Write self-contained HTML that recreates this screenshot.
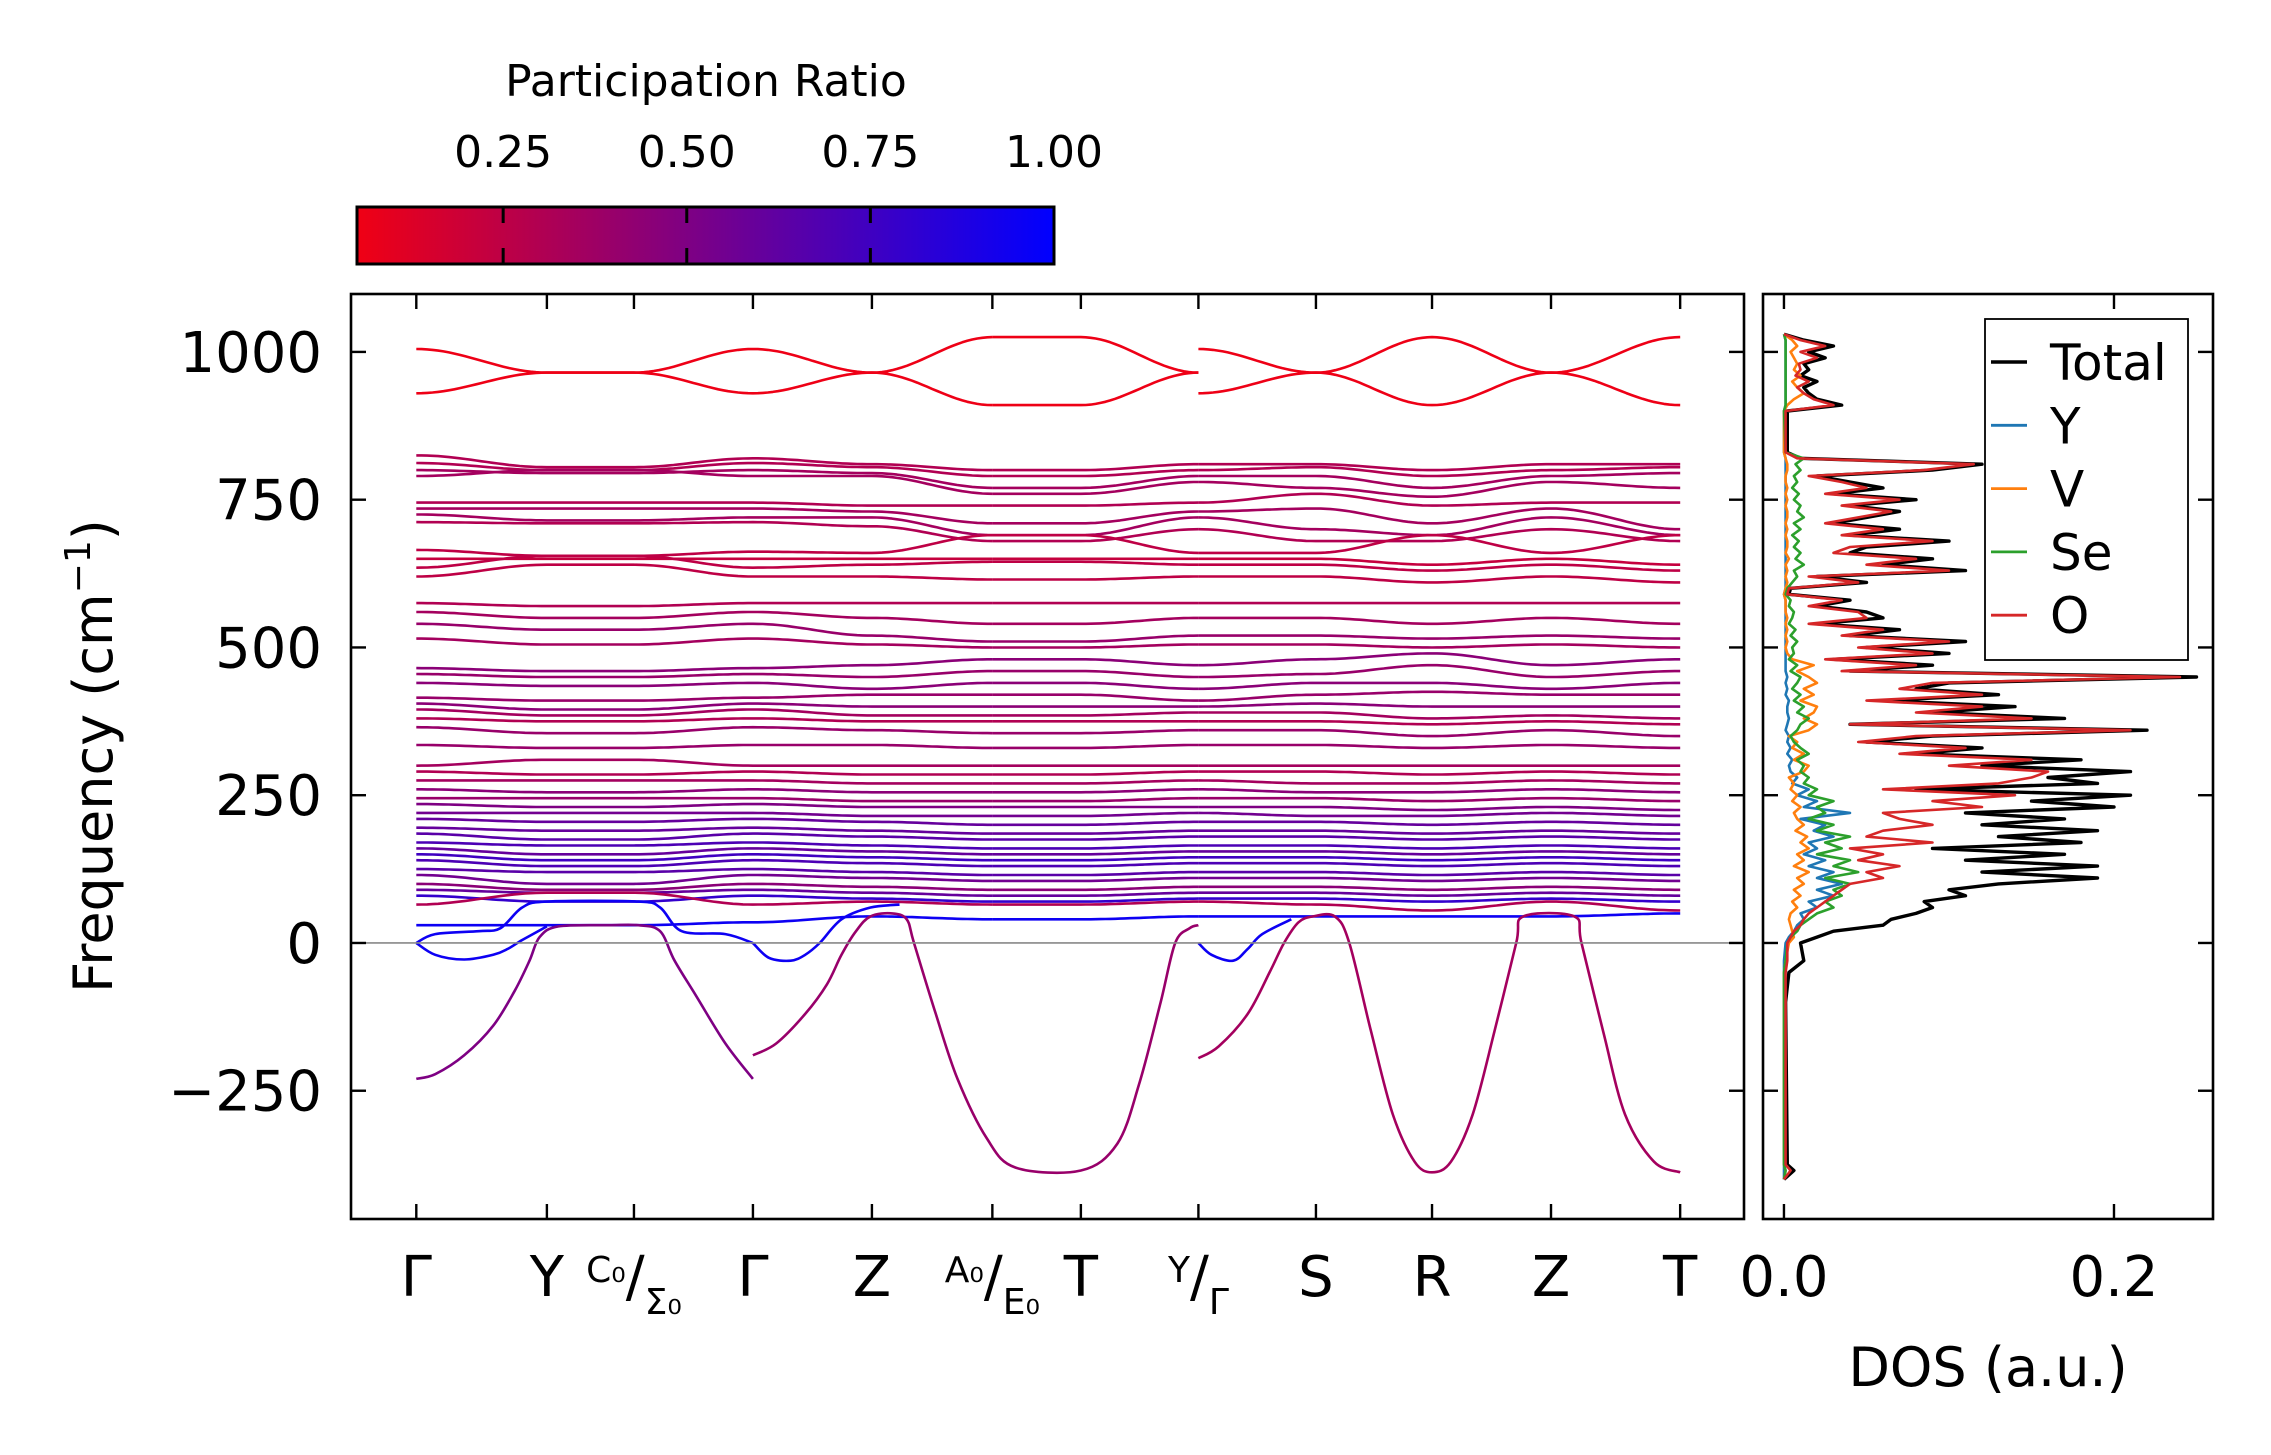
<!DOCTYPE html>
<html><head><meta charset="utf-8"><style>
html,body{margin:0;padding:0;background:#fff;}
svg{display:block;font-family:"DejaVu Sans","Liberation Sans",sans-serif;}
</style></head><body>
<svg id="chart" width="2271" height="1455" viewBox="0 0 2271 1455" xmlns="http://www.w3.org/2000/svg">
<defs>
<linearGradient id="cmap" x1="0" x2="1" y1="0" y2="0">
<stop offset="0" stop-color="#f00014"/><stop offset="1" stop-color="#0000ff"/>
</linearGradient>
<clipPath id="mainclip"><rect x="351" y="294" width="1393" height="925"/></clipPath>
<clipPath id="dosclip"><rect x="1763" y="294" width="450" height="925"/></clipPath>
</defs>
<rect x="0" y="0" width="2271" height="1455" fill="#fff"/>
<g id="colorbar">
<text x="706" y="96" font-size="44" text-anchor="middle">Participation Ratio</text>
<rect x="357" y="207" width="697" height="57" fill="url(#cmap)" stroke="#000" stroke-width="3"/>
</g>
<g id="main"></g>
<g id="dos"></g>
</svg>
<script>
// ---- Band structure data ----
const kLabels = ["Γ","Y","C0/Σ0","Γ","Z","A0/E0","T","Y/Γ","S","R","Z","T"];
const kTicks = [0,0.9,1.5,2.32,3.14,3.97,4.58,5.39,6.2,7.0,7.82,8.71];
const freqTicks = [-250,0,250,500,750,1000];
const prTicks = [0.25,0.50,0.75,1.00];
const topBand1 = [1005,965,965, 965,1005,965,1025, 1025,1025,965, 1005,965,1025,965,1025];
const topBand2 = [930,965,965, 965,930,965,910, 910,910,965, 930,965,910,965,910];
const topBandPR = [0.06,0.06];
const flatBands = [
[0.30,825,805,805,820,810,800,800,810,810,800,810,810],
[0.30,812,800,800,812,805,790,790,800,805,790,800,805],
[0.35,800,795,795,800,795,770,770,790,790,770,790,795],
[0.35,790,800,800,790,790,760,760,780,770,755,780,770],
[0.30,745,745,745,745,740,740,740,745,760,740,745,745],
[0.35,735,735,735,735,730,710,710,730,735,710,735,700],
[0.35,725,715,715,720,720,690,690,720,700,690,720,690],
[0.30,712,710,710,712,705,680,680,700,680,680,700,680],
[0.25,665,655,655,662,660,690,690,660,660,690,660,690],
[0.22,650,650,650,650,650,650,650,650,650,640,650,640],
[0.25,635,655,655,635,640,645,645,640,640,630,640,630],
[0.25,620,640,640,620,620,615,615,620,620,610,620,610],
[0.30,575,570,570,575,575,575,575,575,575,575,575,575],
[0.35,560,550,550,560,550,540,540,550,550,540,550,540],
[0.40,540,530,530,540,520,510,510,520,520,515,520,515],
[0.35,515,505,505,515,505,500,500,505,505,500,505,500],
[0.45,465,460,460,465,470,480,480,470,480,490,470,480],
[0.40,455,450,450,455,450,460,460,450,455,470,450,460],
[0.45,440,435,435,440,430,440,440,430,440,440,430,440],
[0.40,415,410,410,415,420,420,420,410,420,425,420,420],
[0.45,405,395,395,405,400,400,400,400,405,400,400,400],
[0.35,395,385,385,395,385,385,385,390,390,380,385,380],
[0.30,380,375,375,380,375,375,375,375,375,370,375,370],
[0.40,365,355,355,365,360,355,355,360,360,350,360,350],
[0.40,335,330,330,335,335,330,330,335,335,330,335,330],
[0.35,300,310,310,300,300,300,300,300,300,300,300,300],
[0.30,290,285,285,290,285,285,285,290,290,285,290,285],
[0.35,275,275,275,275,270,270,270,275,270,270,275,270],
[0.45,260,255,255,260,255,255,255,260,255,255,260,255],
[0.40,245,245,245,245,240,240,240,245,245,240,245,240],
[0.50,235,230,230,235,230,230,230,230,230,225,230,225],
[0.55,220,220,220,220,215,215,215,220,215,215,220,215],
[0.60,210,205,205,210,205,200,200,205,205,200,205,200],
[0.60,195,190,190,195,190,185,185,190,190,185,190,185],
[0.65,185,175,175,185,180,175,175,180,180,175,180,175],
[0.70,170,165,165,170,165,160,160,165,165,160,165,160],
[0.60,160,150,150,160,155,150,150,155,155,150,155,150],
[0.75,150,140,140,150,145,140,140,145,145,140,145,140],
[0.70,140,130,130,140,135,130,130,135,135,130,135,130],
[0.65,125,120,120,125,120,115,115,120,120,115,120,115],
[0.55,115,100,100,115,110,105,105,110,110,105,110,105],
[0.45,100,90,90,100,95,90,90,95,95,90,95,90],
[0.60,90,85,85,90,85,80,80,85,85,80,85,80],
[0.80,80,70,70,80,75,70,70,75,75,70,75,70],
[0.30,65,85,85,65,70,65,65,70,65,55,70,55],
[0.95,30,30,30,35,45,40,40,45,45,45,45,50]
];
const softBand1 = [[0,-230],[0.13,-222],[0.33,-190],[0.53,-140],[0.68,-80],[0.78,-30],[0.85,10],[0.98,28],[1.33,30],[1.53,30],[1.68,20],[1.78,-30],[1.93,-90],[2.13,-170],[2.32,-230]];
const softBand2 = [[2.32,-190],[2.48,-170],[2.68,-120],[2.83,-70],[2.93,-20],[3.03,20],[3.13,45],[3.28,50],[3.38,40],[3.43,0],[3.58,-120],[3.73,-230],[3.93,-330],[4.13,-380],[4.58,-385],[4.83,-340],[4.98,-240],[5.13,-100],[5.23,0],[5.33,25],[5.39,30]];
const softBand3 = [[5.39,-195],[5.53,-175],[5.73,-120],[5.88,-50],[5.98,0],[6.08,35],[6.18,45],[6.33,45],[6.43,0],[6.58,-150],[6.73,-290],[6.88,-370],[7.0,-388],[7.13,-370],[7.28,-290],[7.43,-150],[7.58,0],[7.63,45],[7.98,45],[8.03,0],[8.18,-150],[8.33,-290],[8.53,-370],[8.71,-388]];
const loopBand1 = [[0,0],[0.13,15],[0.43,20],[0.58,25],[0.73,60],[0.9,70],[1.53,70],[1.68,60],[1.83,20],[2.13,15],[2.32,0]];
const loopBand2 = [[0,0],[0.13,-20],[0.33,-28],[0.53,-20],[0.63,-10],[0.73,5],[0.9,28]];
const loopBand3 = [[2.32,0],[2.43,-25],[2.58,-30],[2.68,-20],[2.78,0],[2.93,40],[3.13,60],[3.33,65]];
const loopBand4 = [[5.39,0],[5.48,-20],[5.63,-30],[5.73,-10],[5.83,15],[6.03,40]];
const softPR = [0.5,0.4,0.35,0.95,0.95,0.95,0.95];

// ---- DOS data ----
const dosFreq = [-400,-385,-375,-100,-50,-30,
0,10,20,30,40,50,60,70,80,90,100,110,120,130,140,150,160,170,180,190,200,210,220,230,240,250,260,270,280,290,
300,310,320,330,340,350,360,370,380,390,400,410,420,430,440,450,460,470,480,490,500,510,520,530,540,550,560,570,580,590,
600,610,620,630,640,650,660,670,680,690,700,710,720,730,740,750,760,770,780,790,800,810,820,830,
900,910,920,930,940,950,960,970,980,990,1000,1010,1020,1030];
const dosTotal = [0,0.006,0.002,0.001,0.003,0.012,
0.01,0.02,0.03,0.06,0.065,0.08,0.09,0.085,0.11,0.10,
0.13,0.19,0.12,0.19,0.11,0.17,0.09,0.18,0.13,0.19,
0.12,0.17,0.11,0.20,0.15,0.21,0.08,0.19,0.16,0.21,
0.12,0.18,0.08,0.12,0.05,0.09,0.22,0.04,0.17,0.09,
0.14,0.06,0.13,0.08,0.10,0.25,0.04,0.09,0.03,0.10,
0.05,0.11,0.04,0.07,0.02,0.06,0.05,0.02,0.04,0.003,
0.004,0.05,0.02,0.11,0.06,0.09,0.04,0.05,0.10,0.04,
0.07,0.03,0.05,0.07,0.04,0.08,0.03,0.06,0.04,0.02,
0.09,0.12,0.01,0.002,
0.002,0.035,0.02,0.015,0.012,0.02,0.01,0.015,0.012,0.025,
0.015,0.03,0.012,0.0];
const dosO = [0,0.004,0.001,0.001,0.001,0.002,
0.002,0.004,0.006,0.01,0.012,0.015,0.02,0.025,0.03,0.035,
0.04,0.06,0.05,0.07,0.045,0.06,0.04,0.09,0.05,0.06,
0.09,0.07,0.06,0.12,0.09,0.14,0.06,0.13,0.15,0.16,
0.10,0.15,0.07,0.11,0.045,0.08,0.21,0.04,0.15,0.08,
0.12,0.05,0.12,0.07,0.09,0.24,0.035,0.08,0.025,0.09,
0.045,0.10,0.035,0.06,0.015,0.05,0.045,0.015,0.035,0.002,
0.003,0.045,0.015,0.10,0.05,0.08,0.03,0.04,0.09,0.035,
0.06,0.025,0.045,0.065,0.035,0.07,0.025,0.05,0.035,0.015,
0.085,0.115,0.008,0.001,
0.001,0.03,0.018,0.012,0.008,0.015,0.007,0.01,0.009,0.02,
0.01,0.025,0.01,0.0];
const dosSe = [0,0.001,0,0,0,0.001,
0.002,0.004,0.008,0.01,0.015,0.02,0.03,0.025,0.035,0.03,
0.04,0.025,0.045,0.03,0.04,0.02,0.035,0.025,0.04,0.02,
0.03,0.015,0.025,0.02,0.03,0.015,0.02,0.012,0.015,0.01,
0.012,0.008,0.015,0.01,0.006,0.004,0.008,0.01,0.015,0.008,
0.012,0.006,0.01,0.005,0.008,0.01,0.004,0.008,0.003,0.006,
0.005,0.008,0.004,0.007,0.003,0.005,0.006,0.003,0.004,0.001,
0.002,0.005,0.008,0.006,0.012,0.007,0.01,0.006,0.009,0.005,
0.01,0.006,0.012,0.008,0.01,0.006,0.009,0.005,0.008,0.006,
0.01,0.007,0.012,0.001,
0,0.001,0.001,0.001,0.001,0.001,0.001,0.001,0.001,0.001,
0.001,0.001,0.001,0];
const dosV = [0,0.001,0,0,0,0.001,
0.003,0.006,0.005,0.004,0.003,0.004,0.008,0.005,0.01,0.006,
0.012,0.008,0.015,0.006,0.012,0.008,0.015,0.01,0.014,0.007,
0.012,0.008,0.006,0.01,0.005,0.008,0.004,0.006,0.003,0.012,
0.015,0.006,0.012,0.005,0.008,0.003,0.015,0.02,0.012,0.018,
0.02,0.01,0.018,0.012,0.02,0.015,0.008,0.018,0.005,0.002,
0.001,0.002,0.001,0.002,0.001,0.002,0.001,0.001,0.001,0,
0.001,0.002,0.001,0.002,0.001,0.003,0.001,0.002,0.002,0.001,
0.002,0.001,0.002,0.002,0.001,0.002,0.001,0.002,0.001,0.001,
0.002,0.002,0.001,0,
0,0.002,0.006,0.012,0.008,0.005,0.01,0.006,0.008,0.006,
0.004,0.008,0.005,0];
const dosY = [0,0,0,0,0,0,
0.001,0.003,0.006,0.008,0.012,0.01,0.02,0.015,0.03,0.02,
0.035,0.02,0.03,0.015,0.025,0.012,0.02,0.015,0.03,0.018,
0.025,0.01,0.04,0.012,0.02,0.008,0.015,0.005,0.008,0.004,
0.003,0.005,0.002,0.004,0.002,0.003,0.001,0.002,0.003,0.002,
0.002,0.003,0.001,0.002,0.001,0.002,0.001,0.001,0.001,0.001,
0.001,0.001,0.001,0.001,0.001,0.001,0.001,0.001,0.001,0,
0.001,0.001,0.001,0.001,0.001,0.001,0.001,0.001,0.001,0.001,
0.001,0.001,0.001,0.001,0.001,0.001,0.001,0.001,0.001,0.001,
0.001,0.001,0.001,0,
0,0.001,0.001,0.001,0.001,0.001,0.001,0.001,0.001,0.001,
0.001,0.001,0.001,0];
const dosTicks = [0.0,0.2];
const dosSeriesNames = ["Total","Y","V","Se","O"];
const dosSeriesColors = ["#000000","#1f77b4","#ff7f0e","#2ca02c","#d62728"];

// ---- Axes ----
const NS = "http://www.w3.org/2000/svg";
const M = {L:351,R:1744,T:294,B:1219};
const D = {L:1763,R:2213,T:294,B:1219};
const kMin=-0.45,kMax=9.15,fMin=-467,fMax=1098;
const dMin=-0.0127,dMax=0.26;
const prMin=0.051,prMax=1.0;
const CB = {L:357,W:697,T:207,H:57};
const xK = k => M.L + (k-kMin)/(kMax-kMin)*(M.R-M.L);
const yF = f => M.T + (fMax-f)/(fMax-fMin)*(M.B-M.T);
const xD = v => D.L + (v-dMin)/(dMax-dMin)*(D.R-D.L);
const xPR = p => CB.L + (p-prMin)/(prMax-prMin)*CB.W;
function prColor(p){const t=Math.max(0,Math.min(1,(p-prMin)/(prMax-prMin)));
 return `rgb(${Math.round(240*(1-t))},0,${Math.round(20+235*t)})`;}
function mk(tag,attrs,parent){const e=document.createElementNS(NS,tag);for(const a in attrs)e.setAttribute(a,attrs[a]);parent.appendChild(e);return e;}
function smoothPath(pts){
 let d='M'+pts[0][0].toFixed(1)+' '+pts[0][1].toFixed(1);
 for(let i=0;i<pts.length-1;i++){
  const p0=pts[Math.max(0,i-1)],p1=pts[i],p2=pts[i+1],p3=pts[Math.min(pts.length-1,i+2)];
  const c1x=p1[0]+(p2[0]-p0[0])/6,c1y=p1[1]+(p2[1]-p0[1])/6;
  const c2x=p2[0]-(p3[0]-p1[0])/6,c2y=p2[1]-(p3[1]-p1[1])/6;
  d+='C'+c1x.toFixed(1)+' '+c1y.toFixed(1)+' '+c2x.toFixed(1)+' '+c2y.toFixed(1)+' '+p2[0].toFixed(1)+' '+p2[1].toFixed(1);
 }
 return d;
}

const main=document.getElementById('main');
const dos=document.getElementById('dos');
const cb=document.getElementById('colorbar');

// colorbar ticks
prTicks.forEach(p=>{
 const x=xPR(p);
 if(p<prMax-1e-6){
  const t1=mk('line',{x1:x,x2:x,y1:CB.T,y2:CB.T+16,stroke:'#000','stroke-width':3},cb);
  
  
  const t2=mk('line',{x1:x,x2:x,y1:CB.T+CB.H-16,y2:CB.T+CB.H,stroke:'#000','stroke-width':3},cb);
  
  
 }
 const lb=mk('text',{x:x,y:167,'font-size':44,'text-anchor':'middle'},cb);
 lb.textContent=p.toFixed(2);
 
 
});

// bands
const segs=[[0,3],[3,7],[7,10],[10,15]];
const segK=[[0,0.9,1.5],[1.5,2.32,3.14,3.97],[3.97,4.58,5.39],[5.39,6.2,7.0,7.82,8.71]];
function expand12(v){return [v[0],v[1],v[2], v[2],v[3],v[4],v[5], v[5],v[6],v[7], v[7],v[8],v[9],v[10],v[11]];}
const bandsG=mk('g',{'clip-path':'url(#mainclip)',fill:'none','stroke-width':2.6,'stroke-linejoin':'round'},main);


function drawBand15(vals,pr,name){
 segs.forEach((s,si)=>{
  const ks=segK[si], vs=vals.slice(s[0],s[1]);
  let d='';
  for(let i=0;i<ks.length-1;i++){
   const n=24;
   for(let j=0;j<=n;j++){
    if(i>0&&j==0)continue;
    const t=j/n,c=(1-Math.cos(Math.PI*t))/2;
    const k=ks[i]+(ks[i+1]-ks[i])*t, f=vs[i]+(vs[i+1]-vs[i])*c;
    d+=(d?'L':'M')+xK(k).toFixed(1)+' '+yF(f).toFixed(1);
   }
  }
  const p=mk('path',{d:d,stroke:prColor(pr)},bandsG);
  
  
 });
}
flatBands.forEach(b=>drawBand15(expand12(b.slice(1)),b[0],'phonon-band'));
drawBand15(topBand1,topBandPR[0],'top-band');
drawBand15(topBand2,topBandPR[1],'top-band');
[softBand1,softBand2,softBand3,loopBand1,loopBand2,loopBand3,loopBand4].forEach((b,i)=>{
 const pts=b.map(pt=>[xK(pt[0]),yF(pt[1])]);
 const p=mk('path',{d:smoothPath(pts),stroke:prColor(softPR[i])},bandsG);
 
 
});
const zl=mk('line',{x1:M.L,x2:M.R,y1:yF(0),y2:yF(0),stroke:'#888','stroke-width':1.6},main);



const mf=mk('rect',{x:M.L,y:M.T,width:M.R-M.L,height:M.B-M.T,fill:'none',stroke:'#000','stroke-width':2.6},main);


freqTicks.forEach(f=>{
 const y=yF(f);
 const a=mk('line',{x1:M.L,x2:M.L+15,y1:y,y2:y,stroke:'#000','stroke-width':2.4},main);
 
 
 const b=mk('line',{x1:M.R,x2:M.R-15,y1:y,y2:y,stroke:'#000','stroke-width':2.4},main);
 
 
 const t=mk('text',{x:M.L-29,y:y+20,'font-size':56,'text-anchor':'end'},main);
 t.textContent=(f<0?'\u2212':'')+Math.abs(f);
 
 
});
kTicks.forEach((k,i)=>{
 const x=xK(k);
 const a=mk('line',{x1:x,x2:x,y1:M.B,y2:M.B-15,stroke:'#000','stroke-width':2.4},main);
 
 
 const b=mk('line',{x1:x,x2:x,y1:M.T,y2:M.T+15,stroke:'#000','stroke-width':2.4},main);
 
 
 const lab=kLabels[i];
 const t=mk('text',{x:x,y:1296,'font-size':56,'text-anchor':'middle'},main);
 
 
 if(lab.indexOf('/')>=0){
  const parts=lab.split('/');
  const s1=mk('tspan',{'font-size':36,dy:-14},t);
  s1.textContent=parts[0].replace('0','\u2080');
  const s2=mk('tspan',{'font-size':56,dy:14},t);
  s2.textContent='/';
  const s3=mk('tspan',{'font-size':36,dy:18},t);
  s3.textContent=parts[1].replace('0','\u2080');
 } else t.textContent=lab;
});
const yl=mk('text',{x:0,y:0,'font-size':54,'text-anchor':'middle',transform:'translate(112,756) rotate(-90)'},main);


yl.innerHTML='Frequency (cm<tspan font-size="36" dy="-22">\u22121</tspan><tspan dy="22">)</tspan>';

// DOS
const dosG=mk('g',{'clip-path':'url(#dosclip)',fill:'none','stroke-linejoin':'round'},dos);


const dosData=[dosTotal,dosY,dosV,dosSe,dosO];
dosData.forEach((arr,si)=>{
 const d=dosFreq.map((f,i)=>(i?'L':'M')+xD(arr[i]||0).toFixed(1)+' '+yF(f).toFixed(1)).join('');
 const p=mk('path',{d:d,stroke:dosSeriesColors[si],'stroke-width':si==0?3.4:2.6},dosG);
 
 
});
const df=mk('rect',{x:D.L,y:D.T,width:D.R-D.L,height:D.B-D.T,fill:'none',stroke:'#000','stroke-width':2.6},dos);


freqTicks.forEach(f=>{
 const y=yF(f);
 const a=mk('line',{x1:D.L,x2:D.L+15,y1:y,y2:y,stroke:'#000','stroke-width':2.4},dos);
 
 
 const b=mk('line',{x1:D.R,x2:D.R-15,y1:y,y2:y,stroke:'#000','stroke-width':2.4},dos);
 
 
});
dosTicks.forEach(v=>{
 const x=xD(v);
 const a=mk('line',{x1:x,x2:x,y1:D.B,y2:D.B-15,stroke:'#000','stroke-width':2.4},dos);
 
 
 const b=mk('line',{x1:x,x2:x,y1:D.T,y2:D.T+15,stroke:'#000','stroke-width':2.4},dos);
 
 
 const t=mk('text',{x:x,y:1296,'font-size':56,'text-anchor':'middle'},dos);
 t.textContent=v.toFixed(1);
 
 
});
const dl=mk('text',{x:1988,y:1386,'font-size':54,'text-anchor':'middle'},dos);
dl.textContent='DOS (a.u.)';


const lg=mk('g',{},dos);


const lbox=mk('rect',{x:1985,y:319,width:203,height:341,fill:'#fff',stroke:'#000','stroke-width':1.8},lg);


dosSeriesNames.forEach((n,i)=>{
 const y=362+i*63.3;
 const l=mk('line',{x1:1991,x2:2027,y1:y,y2:y,stroke:dosSeriesColors[i],'stroke-width':i==0?3.4:2.8},lg);
 
 
 const t=mk('text',{x:2050,y:y+18,'font-size':50},lg);
 t.textContent=n;
 
 
});
</script>
</body></html>
